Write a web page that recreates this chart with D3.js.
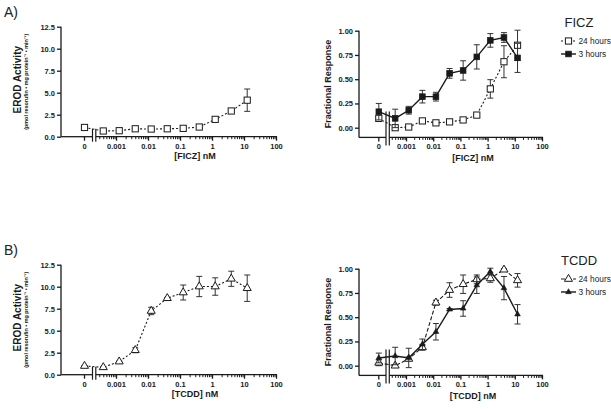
<!DOCTYPE html>
<html><head><meta charset="utf-8">
<script src="https://cdn.jsdelivr.net/npm/d3@7"></script>
<style>body{margin:0;background:#fff} svg{display:block} text{font-family:"Liberation Sans",Arial,sans-serif}</style>
</head><body><svg id="c" width="611" height="409"></svg>
<script>
// ---------- data ----------
const conc = [0, 0.0004, 0.00126, 0.004, 0.0126, 0.04, 0.126, 0.4, 1.26, 4, 12.6];
const xTickValues = [0.001, 0.01, 0.1, 1, 10, 100];
const xTickLabels = ["0.001", "0.01", "0.1", "1", "10", "100"];
const zeroLabel = "0";
const erodTicks = [0, 2.5, 5, 7.5, 10, 12.5];
const fracTicks = [0, 0.25, 0.5, 0.75, 1];

const ficzErod    = [1.05, 0.65, 0.68, 0.90, 0.87, 0.90, 0.95, 1.10, 1.97, 2.92, 4.15];
const ficzErodErr = [0.05, 0.05, 0.05, 0.05, 0.05, 0.05, 0.05, 0.05, 0.10, 0.10, 1.27];
const ficzFrac24    = [0.096, 0.00, 0.007, 0.07, 0.05, 0.06, 0.08, 0.13, 0.40, 0.68, 0.85];
const ficzFrac24Err = [0.01, 0.01, 0.01, 0.01, 0.01, 0.01, 0.01, 0.01, 0.095, 0.165, 0.155];
const ficzFrac3    = [0.165, 0.096, 0.18, 0.32, 0.32, 0.56, 0.59, 0.73, 0.90, 0.93, 0.72];
const ficzFrac3Err = [0.085, 0.095, 0.04, 0.065, 0.045, 0.05, 0.10, 0.125, 0.07, 0.05, 0.15];

const tcddErod    = [0.99, 0.84, 1.49, 2.78, 7.24, 8.69, 9.34, 10.02, 10.02, 10.90, 9.83];
const tcddErodErr = [0.05, 0.05, 0.05, 0.28, 0.42, 0.10, 0.85, 1.15, 0.99, 0.86, 1.50];
const tcddFrac24    = [0.03, 0.00, 0.07, 0.19, 0.65, 0.78, 0.84, 0.89, 0.90, 0.99, 0.88];
const tcddFrac24Err = [0.03, 0.01, 0.02, 0.03, 0.025, 0.075, 0.095, 0.045, 0.04, 0.01, 0.07];
const tcddFrac3    = [0.08, 0.10, 0.08, 0.22, 0.35, 0.58, 0.59, 0.83, 0.97, 0.80, 0.53];
const tcddFrac3Err = [0.05, 0.09, 0.10, 0.055, 0.085, 0.01, 0.08, 0.085, 0.035, 0.12, 0.10];

const panelLabels = ["A)", "B)"];
const compounds = ["FICZ", "TCDD"];
const legendLabels = ["24 hours", "3 hours"];
const erodTitle = "EROD Activity";
const erodSub = "(pmol  resorufin • mg  protein⁻¹ • min⁻¹)";
const fracTitle = "Fractional Response";

// ---------- drawing ----------
const svg = d3.select("#c");
const INK = "#1a1a1a";
const minorVals = [];
for (let e = -4; e <= 1; e++) for (let m = 2; m <= 9; m++) minorVals.push(m * Math.pow(10, e));

function makePanel(cfg) {
  const g = svg.append("g");
  const xLog = d3.scaleLog().domain([0.001, 100]).range([cfg.x001, cfg.x100]);
  const xPos = c => c === 0 ? cfg.xZero : xLog(c);
  const y = d3.scaleLinear().domain(cfg.yDomain).range(cfg.yRange);
  const axisY = y(cfg.yDomain[0]);

  // y axis
  const ya = g.append("g").attr("transform", `translate(${cfg.yAxisX},0)`)
    .call(d3.axisLeft(y).tickValues(cfg.yTicks).tickSize(4).tickSizeOuter(0)
      .tickFormat(cfg.yFmt));
  ya.select(".domain").attr("d", `M0,${axisY}V${y(cfg.yTop)}`);
  ya.selectAll("line,path").attr("stroke", INK).attr("stroke-width", 1.3);
  ya.selectAll("text").attr("font-size", 7.5).attr("font-weight", "bold").attr("fill", INK).attr("dx", 1);

  // x axis (log part)
  const xa = g.append("g").attr("transform", `translate(0,${axisY})`)
    .call(d3.axisBottom(xLog).tickValues(xTickValues).tickSize(4).tickSizeOuter(0)
      .tickFormat((d, i) => xTickLabels[i]));
  xa.select(".domain").attr("d", `M${cfg.brk2},0H${cfg.x100 + 1}`);
  xa.selectAll("line,path").attr("stroke", INK).attr("stroke-width", 1.3);
  xa.selectAll("text").attr("font-size", 7.5).attr("font-weight", "bold").attr("fill", INK).attr("dy", "0.65em");
  // minor ticks
  const mv = minorVals.filter(v => xLog(v) > cfg.brk2 + 1 && v < 100);
  const xm = g.append("g").attr("transform", `translate(0,${axisY})`)
    .call(d3.axisBottom(xLog).tickValues(mv).tickSize(2.5).tickFormat(""));
  xm.select(".domain").remove();
  xm.selectAll("line").attr("stroke", INK).attr("stroke-width", 1);

  // x axis zero part
  g.append("path").attr("d", `M${cfg.yAxisX},${axisY}H${cfg.brk1}`).attr("stroke", INK).attr("stroke-width", 1.3);
  g.append("line").attr("x1", cfg.xZero).attr("x2", cfg.xZero).attr("y1", axisY).attr("y2", axisY + 4)
    .attr("stroke", INK).attr("stroke-width", 1.3);
  g.append("text").attr("x", cfg.xZero).attr("y", axisY + 7).attr("dy", "0.65em")
    .attr("text-anchor", "middle").attr("font-size", 7.5).attr("font-weight", "bold").attr("fill", INK).text(zeroLabel);

  // titles
  g.append("text").attr("x", (cfg.x001 + cfg.x100) / 2 - 1).attr("y", axisY + cfg.xTitleOff)
    .attr("text-anchor", "middle").attr("font-size", 9).attr("font-weight", "bold").attr("fill", INK)
    .text(`[${cfg.compound}] nM`);
  const yMid = (y(cfg.yTop) + axisY) / 2;
  if (cfg.erod) {
    g.append("text").attr("transform", `translate(${cfg.yAxisX - 40},${yMid - 2}) rotate(-90)`)
      .attr("text-anchor", "middle").attr("font-size", 10).attr("font-weight", "bold").attr("fill", INK).text(erodTitle);
    g.append("text").attr("transform", `translate(${cfg.yAxisX - 33},${yMid}) rotate(-90)`)
      .attr("text-anchor", "middle").attr("font-size", 5.4).attr("font-weight", "bold").attr("fill", INK).text(erodSub);
  } else {
    g.append("text").attr("transform", `translate(${cfg.yAxisX - 28},${yMid}) rotate(-90)`)
      .attr("text-anchor", "middle").attr("font-size", 9).attr("font-weight", "bold").attr("fill", INK).text(fracTitle);
  }

  // series
  cfg.series.forEach(s => {
    const pts = conc.map((c, i) => ({ x: xPos(c), v: s.vals[i], e: s.err[i] }));
    g.append("path").datum(pts)
      .attr("d", d3.line().x(d => d.x).y(d => y(d.v)))
      .attr("fill", "none").attr("stroke", INK).attr("stroke-width", s.dash ? 1.1 : 1.4)
      .attr("stroke-dasharray", s.dash || null);
    const eb = g.append("g");
    pts.forEach(d => {
      const y1 = y(d.v + d.e), y2 = y(d.v - d.e);
      eb.append("path").attr("d", `M${d.x},${y1}V${y2}M${d.x - 3},${y1}H${d.x + 3}M${d.x - 3},${y2}H${d.x + 3}`)
        .attr("stroke", "#333").attr("stroke-width", 1).attr("fill", "none");
    });
    pts.forEach(d => drawMarker(g, s.marker, d.x, y(d.v)));
  });

  // break marks
  [cfg.brk1, cfg.brk2].forEach(bx => {
    g.append("line").attr("x1", bx).attr("x2", bx).attr("y1", axisY - cfg.brkUp).attr("y2", axisY + cfg.brkDown)
      .attr("stroke", INK).attr("stroke-width", 1.2);
  });

  // legend
  if (cfg.legend) {
    const L = cfg.legend;
    g.append("text").attr("x", L.x + 18).attr("y", L.y).attr("text-anchor", "middle")
      .attr("font-size", 13).attr("fill", "#222").text(cfg.compound);
    cfg.series.forEach((s, i) => {
      const ly = L.y + 14 + i * 13;
      g.append("path").attr("d", `M${L.x},${ly}H${L.x + 15}`).attr("stroke", INK)
        .attr("stroke-width", s.dash ? 1.1 : 1.4).attr("stroke-dasharray", s.dash || null);
      drawMarker(g, s.marker, L.x + 7.5, ly);
      g.append("text").attr("x", L.x + 17.5).attr("y", ly + 3).attr("font-size", 8.3).attr("fill", "#222").text(legendLabels[i]);
    });
  }
}

function drawMarker(g, m, x, y) {
  if (m === "openSquare") {
    g.append("rect").attr("x", x - 3.1).attr("y", y - 3.1).attr("width", 6.2).attr("height", 6.2)
      .attr("fill", "#fff").attr("stroke", INK).attr("stroke-width", 1);
  } else if (m === "filledSquare") {
    g.append("rect").attr("x", x - 2.8).attr("y", y - 2.8).attr("width", 5.6).attr("height", 5.6)
      .attr("fill", INK).attr("stroke", INK).attr("stroke-width", 0.8);
  } else if (m === "openTri") {
    g.append("path").attr("d", d3.symbol(d3.symbolTriangle, 28)()).attr("transform", `translate(${x},${y})`)
      .attr("fill", "#fff").attr("stroke", INK).attr("stroke-width", 1);
  } else if (m === "filledTri") {
    g.append("path").attr("d", d3.symbol(d3.symbolTriangle, 14)()).attr("transform", `translate(${x},${y})`)
      .attr("fill", INK).attr("stroke", INK).attr("stroke-width", 0.6);
  }
}

const rows = [0, 238];
rows.forEach((off, r) => {
  svg.append("text").attr("x", 4).attr("y", 17 + off).attr("font-size", 14).attr("fill", "#222").text(panelLabels[r]);
  const erodVals = r === 0 ? ficzErod : tcddErod;
  const erodErr = r === 0 ? ficzErodErr : tcddErodErr;
  makePanel({
    erod: true, compound: compounds[r], xTitleOff: 22,
    yAxisX: 61, xZero: 84.5, x001: 116, x100: 276, brk1: 92.5, brk2: 95.8,
    brkUp: 8, brkDown: 5,
    yDomain: [0, 12.5], yTop: 12.5, yRange: [136.7 + off, 26.7 + off], yTicks: erodTicks,
    yFmt: d3.format(".1f"),
    series: [{ vals: erodVals, err: erodErr, marker: r === 0 ? "openSquare" : "openTri", dash: "2,2" }]
  });
  makePanel({
    erod: false, compound: compounds[r], xTitleOff: 24,
    yAxisX: 359, xZero: 378.8, x001: 406, x100: 542, brk1: 386, brk2: 389.3,
    brkUp: 26, brkDown: 8,
    yDomain: [-0.1, 1.0], yTop: 1.0, yRange: [137.4 + off, 30.7 + off], yTicks: fracTicks,
    yFmt: d3.format(".2f"),
    series: r === 0
      ? [{ vals: ficzFrac24, err: ficzFrac24Err, marker: "openSquare", dash: "2,2" },
         { vals: ficzFrac3, err: ficzFrac3Err, marker: "filledSquare", dash: null }]
      : [{ vals: tcddFrac24, err: tcddFrac24Err, marker: "openTri", dash: "4,2" },
         { vals: tcddFrac3, err: tcddFrac3Err, marker: "filledTri", dash: null }],
    legend: { x: 561, y: 27 + off }
  });
});
</script></body></html>
